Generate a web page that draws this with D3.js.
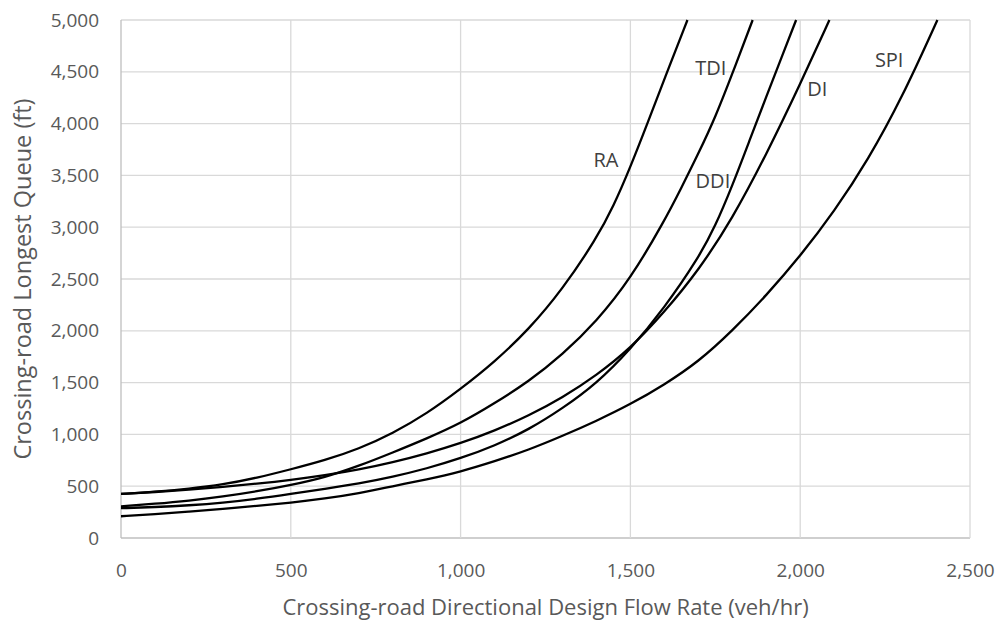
<!DOCTYPE html>
<html>
<head>
<meta charset="utf-8">
<script src="https://cdnjs.cloudflare.com/ajax/libs/d3/7.8.5/d3.min.js"></script>
<style>
  html, body { margin: 0; padding: 0; background: #fff; }
  svg { display: block; }
  text { font-family: "Open Sans", "Noto Sans", sans-serif; }
</style>
</head>
<body>
<svg id="chart" width="1002" height="625"></svg>
<script>
// ---- data ----
const seriesNames = ["RA", "TDI", "DDI", "DI", "SPI"];

const raFlow  = [0, 100, 200, 300, 400, 500, 600, 700, 800, 900, 1000, 1100, 1200, 1300, 1400, 1450, 1500, 1550, 1600, 1668];
const raQueue = [425, 445, 475, 515, 580, 663, 750, 860, 1010, 1200, 1438, 1700, 2010, 2400, 2890, 3200, 3580, 4000, 4430, 5000];

const tdiFlow  = [0, 100, 200, 300, 400, 500, 600, 700, 800, 900, 1000, 1100, 1200, 1300, 1400, 1500, 1600, 1650, 1700, 1750, 1800, 1860];
const tdiQueue = [305, 330, 360, 400, 450, 511, 585, 695, 825, 960, 1107, 1300, 1510, 1770, 2090, 2500, 3060, 3380, 3710, 4060, 4480, 5000];

const ddiFlow  = [0, 100, 200, 300, 400, 500, 600, 700, 800, 900, 1000, 1100, 1200, 1300, 1400, 1500, 1600, 1700, 1750, 1800, 1850, 1900, 1950, 1988];
const ddiQueue = [288, 298, 315, 340, 378, 425, 475, 525, 590, 670, 769, 890, 1045, 1250, 1490, 1820, 2220, 2700, 3010, 3400, 3830, 4260, 4680, 5000];

const diFlow  = [0, 100, 200, 300, 400, 500, 600, 700, 800, 900, 1000, 1100, 1200, 1300, 1400, 1500, 1600, 1700, 1800, 1900, 2000, 2086];
const diQueue = [425, 443, 466, 493, 524, 560, 605, 660, 730, 815, 914, 1035, 1180, 1355, 1570, 1830, 2180, 2580, 3080, 3700, 4380, 5000];

const spiFlow  = [0, 100, 200, 300, 400, 500, 600, 700, 800, 900, 1000, 1100, 1200, 1300, 1400, 1500, 1600, 1700, 1800, 1900, 2000, 2100, 2200, 2300, 2404];
const spiQueue = [210, 230, 255, 280, 310, 341, 380, 430, 500, 565, 640, 740, 850, 985, 1130, 1290, 1480, 1700, 2000, 2340, 2720, 3150, 3650, 4250, 5000];

const seriesFlows  = [raFlow, tdiFlow, ddiFlow, diFlow, spiFlow];
const seriesQueues = [raQueue, tdiQueue, ddiQueue, diQueue, spiQueue];

// label anchors (flow, queue)
const labelFlow  = [1428, 1737, 1743, 2050, 2262];
const labelQueue = [3649, 4537, 3446, 4334, 4614];

const xTicks = [0, 500, 1000, 1500, 2000, 2500];
const yTicks = [0, 500, 1000, 1500, 2000, 2500, 3000, 3500, 4000, 4500, 5000];

const xTitle = "Crossing-road Directional Design Flow Rate (veh/hr)";
const yTitle = "Crossing-road Longest Queue (ft)";

// ---- layout ----
const plot = { left: 121, right: 970, top: 20, bottom: 538 };
const svg = d3.select("#chart");

const x = d3.scaleLinear().domain([0, 2500]).range([plot.left, plot.right]);
const y = d3.scaleLinear().domain([0, 5000]).range([plot.bottom, plot.top]);
const fmt = d3.format(",");

// gridlines
const grid = svg.append("g");
grid.selectAll("line.h").data(yTicks).join("line")
  .attr("x1", plot.left).attr("x2", plot.right)
  .attr("y1", d => y(d)).attr("y2", d => y(d))
  .attr("stroke", d => d === 0 ? "#bfbfbf" : "#d9d9d9").attr("stroke-width", 1.3);
grid.selectAll("line.v").data(xTicks).join("line")
  .attr("y1", plot.top).attr("y2", plot.bottom)
  .attr("x1", d => x(d)).attr("x2", d => x(d))
  .attr("stroke", d => d === 0 ? "#bfbfbf" : "#d9d9d9").attr("stroke-width", 1.3);

// axes (labels only)
const xAxis = svg.append("g").attr("transform", `translate(0,${plot.bottom})`)
  .call(d3.axisBottom(x).tickValues(xTicks).tickFormat(fmt).tickSize(0).tickPadding(26));
const yAxis = svg.append("g").attr("transform", `translate(${plot.left},0)`)
  .call(d3.axisLeft(y).tickValues(yTicks).tickFormat(fmt).tickSize(0).tickPadding(22));
[xAxis, yAxis].forEach(a => {
  a.select(".domain").remove();
  a.selectAll("text").attr("font-family", "'Open Sans', sans-serif")
    .attr("font-size", 19).attr("fill", "#595959");
});

// clip
svg.append("clipPath").attr("id", "clip").append("rect")
  .attr("x", plot.left).attr("y", plot.top - 1)
  .attr("width", plot.right - plot.left).attr("height", plot.bottom - plot.top + 1);

const line = d3.line()
  .x(d => x(d[0])).y(d => y(d[1]))
  .curve(d3.curveBasis);

const lines = svg.append("g").attr("clip-path", "url(#clip)");
seriesNames.forEach((name, i) => {
  const pts = seriesFlows[i].map((f, j) => [f, seriesQueues[i][j]]);
  lines.append("path").datum(pts)
    .attr("d", line)
    .attr("fill", "none")
    .attr("stroke", "#000")
    .attr("stroke-width", 2.3)
    .attr("stroke-linejoin", "round");
});

// series labels
svg.append("g").selectAll("text").data(seriesNames).join("text")
  .attr("x", (d, i) => x(labelFlow[i]))
  .attr("y", (d, i) => y(labelQueue[i]))
  .attr("dy", "0.35em")
  .attr("text-anchor", "middle")
  .attr("font-size", 20)
  .attr("fill", "#404040")
  .text(d => d);

// axis titles
svg.append("text")
  .attr("x", (plot.left + plot.right) / 2).attr("y", 615)
  .attr("text-anchor", "middle").attr("font-size", 22).attr("fill", "#595959")
  .text(xTitle);
svg.append("text")
  .attr("transform", `translate(23,${(plot.top + plot.bottom) / 2}) rotate(-90)`)
  .attr("text-anchor", "middle").attr("dy", "0.35em")
  .attr("font-size", 23.5).attr("fill", "#595959")
  .text(yTitle);
</script>
</body>
</html>
